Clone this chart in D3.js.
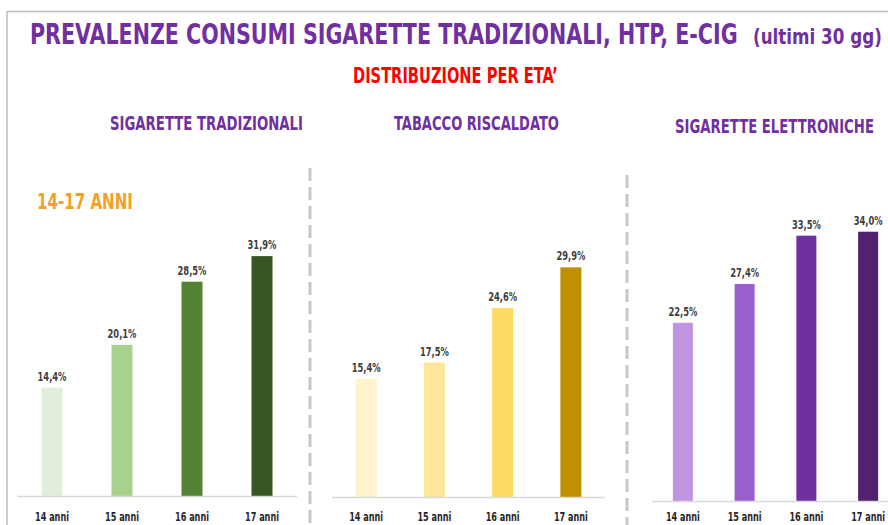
<!DOCTYPE html>
<html>
<head>
<meta charset="utf-8">
<script src="https://cdn.jsdelivr.net/npm/d3@7"></script>
<style>
  html, body { margin: 0; padding: 0; background: #ffffff; }
  svg { display: block; }
  text { font-family: 'Liberation Sans Narrow', 'DejaVu Sans Condensed', 'Arial Narrow', sans-serif; font-weight: bold; }
</style>
</head>
<body>
<svg id="chart" width="888" height="525"></svg>
<script>
// ---- Data ----
const categories = ["14 anni", "15 anni", "16 anni", "17 anni"];
const sigaretteTradizionali = [14.4, 20.1, 28.5, 31.9];
const tabaccoRiscaldato = [15.4, 17.5, 24.6, 29.9];
const sigaretteElettroniche = [22.5, 27.4, 33.5, 34.0];
const panelTitles = ["SIGARETTE TRADIZIONALI", "TABACCO RISCALDATO", "SIGARETTE ELETTRONICHE"];
const colorsTradizionali = ["#e2efda", "#a9d18e", "#548235", "#375623"];
const colorsRiscaldato = ["#fff2cc", "#ffe699", "#ffd966", "#bf9000"];
const colorsElettroniche = ["#bf94e0", "#9b5fcf", "#7030a0", "#51226f"];
const mainTitle = "PREVALENZE CONSUMI SIGARETTE TRADIZIONALI, HTP, E-CIG";
const mainTitleNote = "(ultimi 30 gg)";
const subTitle = "DISTRIBUZIONE PER ETA\u2019";
const ageGroupLabel = "14-17 ANNI";

const svg = d3.select("#chart");
const fmt = v => d3.format(".1f")(v).replace(".", ",") + "%";

// Text drawn at a natural width equal to the target width, stretched vertically to the wanted size
function addText(parent, o) {
  const g = parent.append("g");
  const t = g.append("text")
    .attr("text-anchor", o.anchor || "start")
    .attr("fill", o.fill)
    .attr("font-size", 20)
    .text(o.text);
  const w = t.node().getComputedTextLength();
  const fs = 20 * o.width / w;
  t.attr("font-size", fs);
  g.attr("transform", `translate(${o.x},${o.y}) scale(1,${o.size / fs})`);
  return g;
}

// frame
svg.append("line").attr("x1", 7).attr("x2", 888).attr("y1", 11.5).attr("y2", 11.5)
  .attr("stroke", "#bdbdbd").attr("stroke-width", 1.5);
svg.append("line").attr("x1", 7).attr("x2", 7).attr("y1", 11).attr("y2", 525)
  .attr("stroke", "#bdbdbd").attr("stroke-width", 1.5);

// titles
addText(svg, { x: 30, y: 44, text: mainTitle, width: 708, size: 29, fill: "#7030a0" });
addText(svg, { x: 753, y: 44, text: mainTitleNote, width: 129, size: 22, fill: "#7030a0" });
addText(svg, { x: 353, y: 83, text: subTitle, width: 205, size: 22, fill: "#ff0000" });
addText(svg, { x: 37, y: 209, text: ageGroupLabel, width: 96, size: 21, fill: "#f5a01f" });

// separators
[[310, 168], [627, 175]].forEach(([x, y0]) => {
  svg.append("line").attr("x1", x).attr("x2", x).attr("y1", y0).attr("y2", 525)
    .attr("stroke", "#c8c8c8").attr("stroke-width", 3).attr("stroke-dasharray", "13,6");
});

const panels = [
  { title: panelTitles[0], values: sigaretteTradizionali, colors: colorsTradizionali,
    range: [17, 297], axisEnd: 297, base: 496, pxPer: 7.52, barW: 21,
    titleX: 110, titleW: 193, titleY: 130, labelY: 520.5 },
  { title: panelTitles[1], values: tabaccoRiscaldato, colors: colorsRiscaldato,
    range: [332, 605], axisEnd: 605, base: 497, pxPer: 7.68, barW: 21,
    titleX: 394, titleW: 165, titleY: 130, labelY: 520.5 },
  { title: panelTitles[2], values: sigaretteElettroniche, colors: colorsElettroniche,
    range: [652, 899], axisEnd: 888, base: 501, pxPer: 7.92, barW: 20,
    titleX: 675, titleW: 199, titleY: 133, labelY: 521 }
];

panels.forEach(p => {
  const x = d3.scalePoint().domain(categories).range(p.range).padding(0.5);
  const y = d3.scaleLinear().domain([0, 40]).range([p.base, p.base - 40 * p.pxPer]);
  const g = svg.append("g");

  addText(g, { x: p.titleX, y: p.titleY, text: p.title, width: p.titleW, size: 19, fill: "#7030a0" });

  // bars
  g.selectAll("rect.bar").data(p.values).join("rect")
    .attr("class", "bar")
    .attr("x", (d, i) => x(categories[i]) - p.barW / 2)
    .attr("width", p.barW)
    .attr("y", d => y(d))
    .attr("height", d => y(0) - y(d))
    .attr("fill", (d, i) => p.colors[i]);

  // value labels
  p.values.forEach((d, i) => {
    addText(g, { x: x(categories[i]), y: y(d) - 7, text: fmt(d), width: 29, size: 12.5,
      fill: "#404040", anchor: "middle" });
  });

  // baseline
  g.append("line").attr("x1", p.range[0]).attr("x2", p.axisEnd)
    .attr("y1", p.base + 0.5).attr("y2", p.base + 0.5)
    .attr("stroke", "#d9d9d9").attr("stroke-width", 1.5);

  // category labels
  categories.forEach(c => {
    addText(g, { x: x(c), y: p.labelY, text: c, width: 34, size: 13,
      fill: "#262626", anchor: "middle" });
  });
});
</script>
</body>
</html>
